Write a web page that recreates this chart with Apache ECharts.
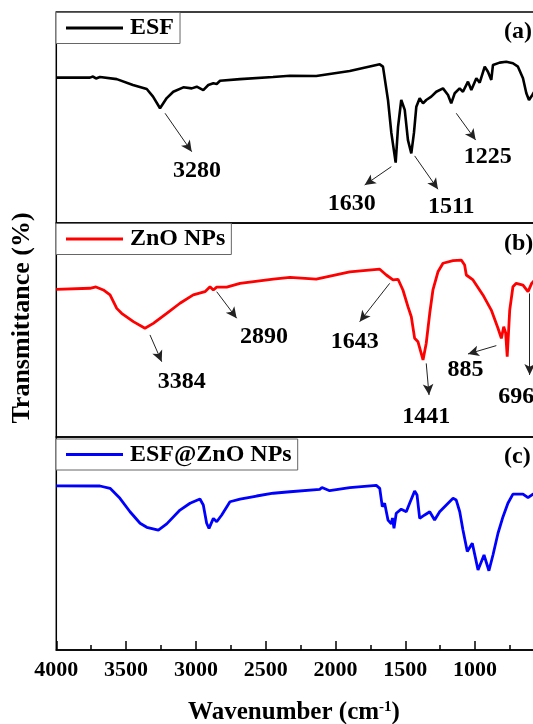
<!DOCTYPE html>
<html>
<head>
<meta charset="utf-8">
<script src="https://cdn.jsdelivr.net/npm/echarts@6/dist/echarts.min.js"></script>
<style>
html,body{margin:0;padding:0;overflow:hidden;background:#fff;}
#chart{width:560px;height:724px;}
</style>
</head>
<body>
<div id="chart"></div>
<script>
// ---- data ----
const seriesNames = ['ESF', 'ZnO NPs', 'ESF@ZnO NPs'];
const panelTags = ['(a)', '(b)', '(c)'];
const xTickValues = [4000, 3500, 3000, 2500, 2000, 1500, 1000];

const wavenumberESF = [4000,3759,3737,3716,3687,3567,3451,3352,3307,3257,3209,3162,3090,3030,2994,2947,2911,2875,2851,2827,2684,2448,2326,2138,1898,1683,1660,1624,1600,1569,1552,1529,1504,1481,1457,1438,1421,1397,1373,1350,1314,1278,1230,1194,1171,1146,1111,1087,1051,1027,991,967,931,908,884,872,824,777,729,693,657,633,614,590,560];
const transESF = [68.9,68.9,69.4,68.5,69.2,68.2,65.4,63.5,59.9,54.4,59.2,62.2,64.3,63.8,64.6,63.0,65.4,66.2,65.9,67.4,68.2,69.2,69.8,69.7,72.0,75.2,74.1,58.3,42.7,28.6,45.6,58.3,53.6,39.3,33.0,42.7,55.1,59.1,56.7,58.3,59.9,62.2,63.8,60.7,56.7,61.5,63.8,62.2,67.0,63.0,68.6,66.5,74.1,71.7,67.8,74.9,76.0,76.4,75.7,74.1,68.6,61.5,58.3,60.7,64.0];

const wavenumberZnO = [4000,3759,3716,3663,3615,3567,3532,3448,3365,3305,3209,3114,3019,2935,2899,2875,2851,2779,2684,2446,2326,2138,1898,1683,1636,1588,1552,1517,1481,1457,1433,1409,1373,1350,1325,1302,1266,1230,1158,1099,1075,1063,1015,944,884,836,812,795,781,770,752,729,705,657,621,595,540];
const transZnO = [69.0,69.5,70.1,68.7,66.4,60.1,57.8,53.9,50.8,53.1,57.8,62.5,66.4,67.9,70.2,68.7,70.0,70.0,71.8,73.8,74.6,73.8,77.2,78.4,75.7,73.4,73.7,68.7,60.9,56.2,46.1,44.5,36.0,43.8,57.8,68.7,77.2,81.2,82.4,82.7,80.4,75.7,73.4,66.4,59.3,50.8,46.1,51.5,48.6,37.5,59.3,70.2,71.8,71.0,67.9,71.8,75.7];

const wavenumberMix = [4000,3687,3615,3544,3472,3400,3352,3269,3209,3114,3042,2971,2947,2923,2906,2875,2851,2815,2756,2684,2565,2446,2326,2113,2097,2042,1898,1708,1683,1665,1648,1624,1600,1592,1581,1565,1529,1493,1469,1433,1416,1397,1361,1325,1290,1254,1206,1158,1135,1110,1087,1056,1020,979,936,901,872,836,800,765,729,657,621,585,537];
const transMix = [77.1,77.0,75.9,71.2,64.9,59.5,57.6,56.3,59.2,65.7,68.9,70.9,68.1,59.5,57.1,61.8,60.2,63.4,69.6,70.8,72.3,73.6,74.3,75.4,76.3,74.8,76.2,77.3,75.9,67.3,68.9,61.0,59.2,62.0,57.1,64.2,66.1,64.9,68.9,74.6,72.8,61.8,63.4,64.9,61.0,64.9,68.1,71.2,70.4,64.9,56.3,46.2,50.1,37.6,44.6,37.2,44.6,54.8,62.6,68.9,73.2,73.2,71.5,73.2,74.0];

// peak annotations in data units: [text, arrowFrom, arrowTo, labelAt]
const notesESF = [
  ['3280', [3221, 52.0], [3030, 33.8], [2992, 24.8]],
  ['1630', [1600, 26.7], [1791, 18.0], [1883, 9.3]],
  ['1511', [1433, 31.8], [1266, 16.0], [1171, 7.7]],
  ['1225', [1135, 52.0], [996, 39.3], [910, 31.4]]
];
const notesZnO = [
  ['3384', [3329, 47.7], [3245, 35.2], [3102, 25.8]],
  ['2890', [2851, 67.9], [2708, 55.5], [2512, 46.9]],
  ['1643', [1612, 71.8], [1827, 53.9], [1862, 44.5]],
  ['1441', [1350, 34.4], [1330, 19.6], [1350, 9.5]],
  ['885',  [848, 42.7], [1051, 38.8], [1069, 31.3]],
  ['696',  [609, 67.1], [609, 29.0], [705, 18.8]]
];
const notesMix = [];

// ---- chart ----
const FONT = 'Liberation Serif';
const pxPer500 = 69.8;
const gridLeft = 56.3;
const xMin = 500, xMax = 4000;
const gridWidth = (xMax - xMin) / 500 * pxPer500;
const panels = [
  {top: 12, height: 211, color: '#000000', wn: wavenumberESF, t: transESF, notes: notesESF, lw: 2.6},
  {top: 223, height: 214, color: '#ff0000', wn: wavenumberZnO, t: transZnO, notes: notesZnO, lw: 2.8},
  {top: 437, height: 213, color: '#0000ff', wn: wavenumberMix, t: transMix, notes: notesMix, lw: 2.8}
];

const grids = [], xAxes = [], yAxes = [], series = [], legends = [], graphics = [];
panels.forEach((p, i) => {
  const isBottom = i === panels.length - 1;
  grids.push({left: gridLeft, width: gridWidth, top: p.top, height: p.height,
    show: true, borderColor: '#000', borderWidth: 1.5, backgroundColor: 'transparent'});
  xAxes.push({
    gridIndex: i, type: 'value', inverse: true, min: xMin, max: xMax, interval: 500,
    show: true,
    axisLine: {show: isBottom, lineStyle: {color: '#000', width: 1.5}},
    axisTick: {show: isBottom, inside: true, length: 9, lineStyle: {color: '#000', width: 1.5}},
    minorTick: {show: isBottom, splitNumber: 2, length: 5, lineStyle: {color: '#000', width: 1.5}},
    axisLabel: {show: isBottom, showMinLabel: false, margin: 9, color: '#000', fontFamily: FONT, fontWeight: 'bold', fontSize: 22,
      formatter: v => xTickValues.includes(v) ? String(v) : ''},
    splitLine: {show: false}, minorSplitLine: {show: false}
  });
  yAxes.push({gridIndex: i, type: 'value', min: 0, max: 100, show: false});
  const data = p.wn.map((w, k) => [w, p.t[k]]);
  series.push({
    name: seriesNames[i], type: 'line', xAxisIndex: i, yAxisIndex: i,
    data: data, showSymbol: false, symbol: 'none', smooth: false,
    lineStyle: {color: p.color, width: p.lw}, itemStyle: {color: p.color},
    animation: false, clip: true,
    markLine: {
      silent: true, animation: false,
      symbol: ['none', 'arrow'], symbolSize: [8, 11],
      lineStyle: {color: '#222', width: 1, type: 'solid'},
      label: {show: false},
      data: p.notes.map(n => [{coord: n[1]}, {coord: n[2]}])
    },
    markPoint: {
      silent: true, animation: false,
      symbol: 'circle', symbolSize: 1, itemStyle: {color: 'rgba(0,0,0,0)'},
      label: {show: true, position: 'inside', formatter: '{b}', color: '#000',
        fontFamily: FONT, fontWeight: 'bold', fontSize: 24},
      data: p.notes.map(n => ({name: n[0], coord: n[3]}))
    }
  });
  legends.push({
    data: [seriesNames[i]], left: gridLeft - 0.3, top: p.top + (i === 2 ? 2 : 0.5),
    orient: 'horizontal', icon: 'rect', itemWidth: 57, itemHeight: 3.2,
    padding: [3.5, 6, 3.5, 10], borderColor: '#666', borderWidth: 1,
    backgroundColor: '#fff', selectedMode: false,
    textStyle: {color: '#000', fontFamily: FONT, fontWeight: 'bold', fontSize: 24, padding: [0, 0, 0, 2]}
  });
  graphics.push({type: 'text', left: 504, top: p.top + (i === 1 ? 9 : 8),
    style: {text: panelTags[i], fill: '#000', font: 'bold 24px "Liberation Serif"'}});
});

graphics.push({type: 'text', x: 22, y: 318, rotation: Math.PI / 2,
  style: {text: 'Transmittance (%)', fill: '#000', font: 'bold 26px "Liberation Serif"',
    textAlign: 'center', textVerticalAlign: 'middle'}});
graphics.push({type: 'text', x: 294, y: 713,
  style: {
    text: '{m|Wavenumber (cm}{s|-1}{m|)}', textAlign: 'center', textVerticalAlign: 'middle',
    rich: {
      m: {fontFamily: FONT, fontWeight: 'bold', fontSize: 25, fill: '#000', color: '#000'},
      s: {fontFamily: FONT, fontWeight: 'bold', fontSize: 15, fill: '#000', color: '#000', padding: [0, 0, 12, 0]}
    }
  }});

const chart = echarts.init(document.getElementById('chart'), null, {renderer: 'canvas'});
chart.setOption({
  animation: false,
  backgroundColor: '#fff',
  grid: grids, xAxis: xAxes, yAxis: yAxes, series: series, legend: legends,
  graphic: graphics
});
</script>
</body>
</html>
